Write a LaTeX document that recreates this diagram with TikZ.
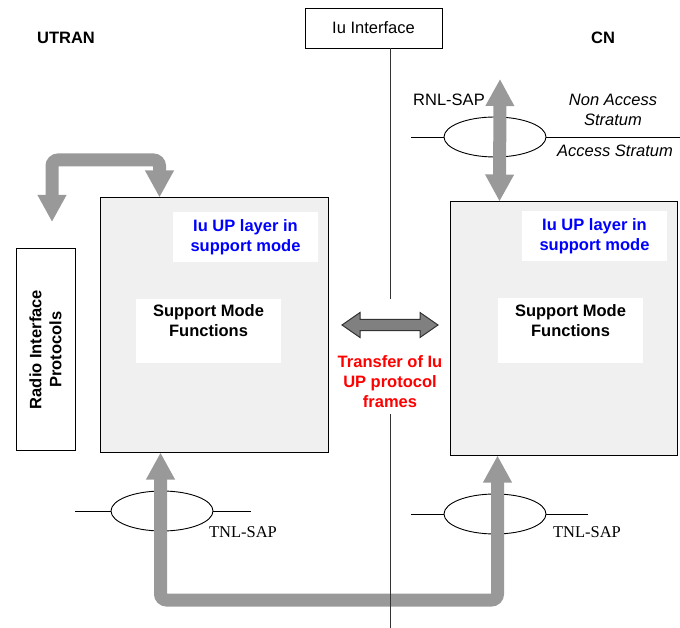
\documentclass[tikz,border=0pt]{standalone}
\usepackage{fontspec}
\setmainfont{Liberation Sans}
\newfontfamily\timesfont{Liberation Serif}
\usetikzlibrary{arrows.meta,shapes.geometric}

\begin{document}
\begin{tikzpicture}[x=1pt, y=-1pt,
    txt/.style={font=\fontsize{16.5}{20}\selectfont, align=center, inner sep=0pt},
    bold/.style={txt, font=\fontsize{16.5}{20}\selectfont\bfseries},
    ital/.style={txt, font=\fontsize{16.5}{20}\selectfont\itshape},
    serif/.style={txt, font=\fontsize{16.5}{20}\selectfont\timesfont},
    layerbox/.style={draw, line width=1pt, fill=black!6, inner sep=0pt},
    whitebox/.style={bold, fill=white, minimum width=145pt, minimum height=50pt},
    sap/.style={draw, ellipse, line width=0.9pt, minimum width=102pt, minimum height=40pt, inner sep=0pt},
    bigarrow/.style={line width=13pt, draw=black!40, rounded corners=6pt,
      {Triangle[width=27pt,length=27pt]}-{Triangle[width=27pt,length=27pt]}}]
      \useasboundingbox (0,0) rectangle (680,628);

      \node[bold] (utran) at (66,38) {UTRAN};
      \node[bold] (cn) at (603,38) {CN};
      \node[txt, draw, line width=0.9pt, minimum width=137pt, minimum height=40pt] (iu) at (373.5,28) {Iu Interface};

      % layer boxes
      \node[layerbox, minimum width=228pt, minimum height=254pt] (utranbox) at (214,325) {};
      \node[layerbox, minimum width=227pt, minimum height=253pt] (cnbox) at (563.5,328.5) {};
      \node[whitebox, text=blue] (upL) at (245.5,237) {Iu UP layer in\\support mode};
      \node[whitebox, text=blue] (upR) at (594.5,236.5) {Iu UP layer in\\support mode};
      \node[whitebox, minimum height=64pt] (smfL) at (208.5,331) {Support Mode\\Functions\\~};
      \node[whitebox, minimum height=64pt] (smfR) at (570.5,330.5) {Support Mode\\Functions\\~};
      \node[bold, draw, line width=1pt, rotate=90, minimum width=201pt, minimum height=59pt] (radio) at (45.5,349.5) {Radio Interface\\Protocols};

      % service access points
      \node[sap] (rnl) at (495,137) {};
      \node[sap] (tnlL) at (162,511) {};
      \node[sap] (tnlR) at (495,514) {};
      \draw[line width=0.9pt] (rnl.west) -- ++(-33,0) (rnl.east) -- ++(134,0);
      \draw[line width=0.9pt] (tnlL.west) -- ++(-36,0) (tnlL.east) -- ++(38,0);
      \draw[line width=0.9pt] (tnlR.west) -- ++(-33,0) (tnlR.east) -- ++(42,0);
      \node[txt] (rnllab) at (449,100) {RNL-SAP};
      \node[ital] (nas) at (613,110) {Non Access\\Stratum};
      \node[ital] (as) at (615,151) {Access Stratum};
      \node[serif] (tnlLlab) at (243,532) {TNL-SAP};
      \node[serif] (tnlRlab) at (587,532) {TNL-SAP};

      \coordinate (radtip) at (52,222);
      \coordinate (rnltop) at (500,79);
      \coordinate (tnlbus) at (390,600);
      \draw[bigarrow] (radtip) -- ++(0,-62) -| ([xshift=60pt]utranbox.north west);
      \draw[bigarrow] (rnltop) -- ([xshift=50pt]cnbox.north west);
      \draw[bigarrow] ([xshift=61pt]utranbox.south west) |- (tnlbus) -| ([xshift=48pt]cnbox.south west);

      % Iu interface line
      \coordinate (gaptop) at (390,299);
      \coordinate (gapbot) at (390,414);
      \coordinate (ifbot) at (390,628);
      \draw[line width=1pt, black!80] (iu.south -| gaptop) -- (gaptop);
      \draw[line width=1pt, black!80] (gapbot) -- (ifbot);

      \coordinate (xfer) at (390,325);
      \draw[shift={(xfer)}, line width=1pt, draw=black!80, fill=black!50]
        (-48,0) -- (-30,-12.5) -- (-30,-5.5) -- (30,-5.5) -- (30,-12.5) -- (48,0)
        -- (30,12.5) -- (30,5.5) -- (-30,5.5) -- (-30,12.5) -- cycle;
      \node[bold, text=red] (xferlab) at (390,382) {Transfer of Iu\\UP protocol\\frames};
\end{tikzpicture}
\end{document}
